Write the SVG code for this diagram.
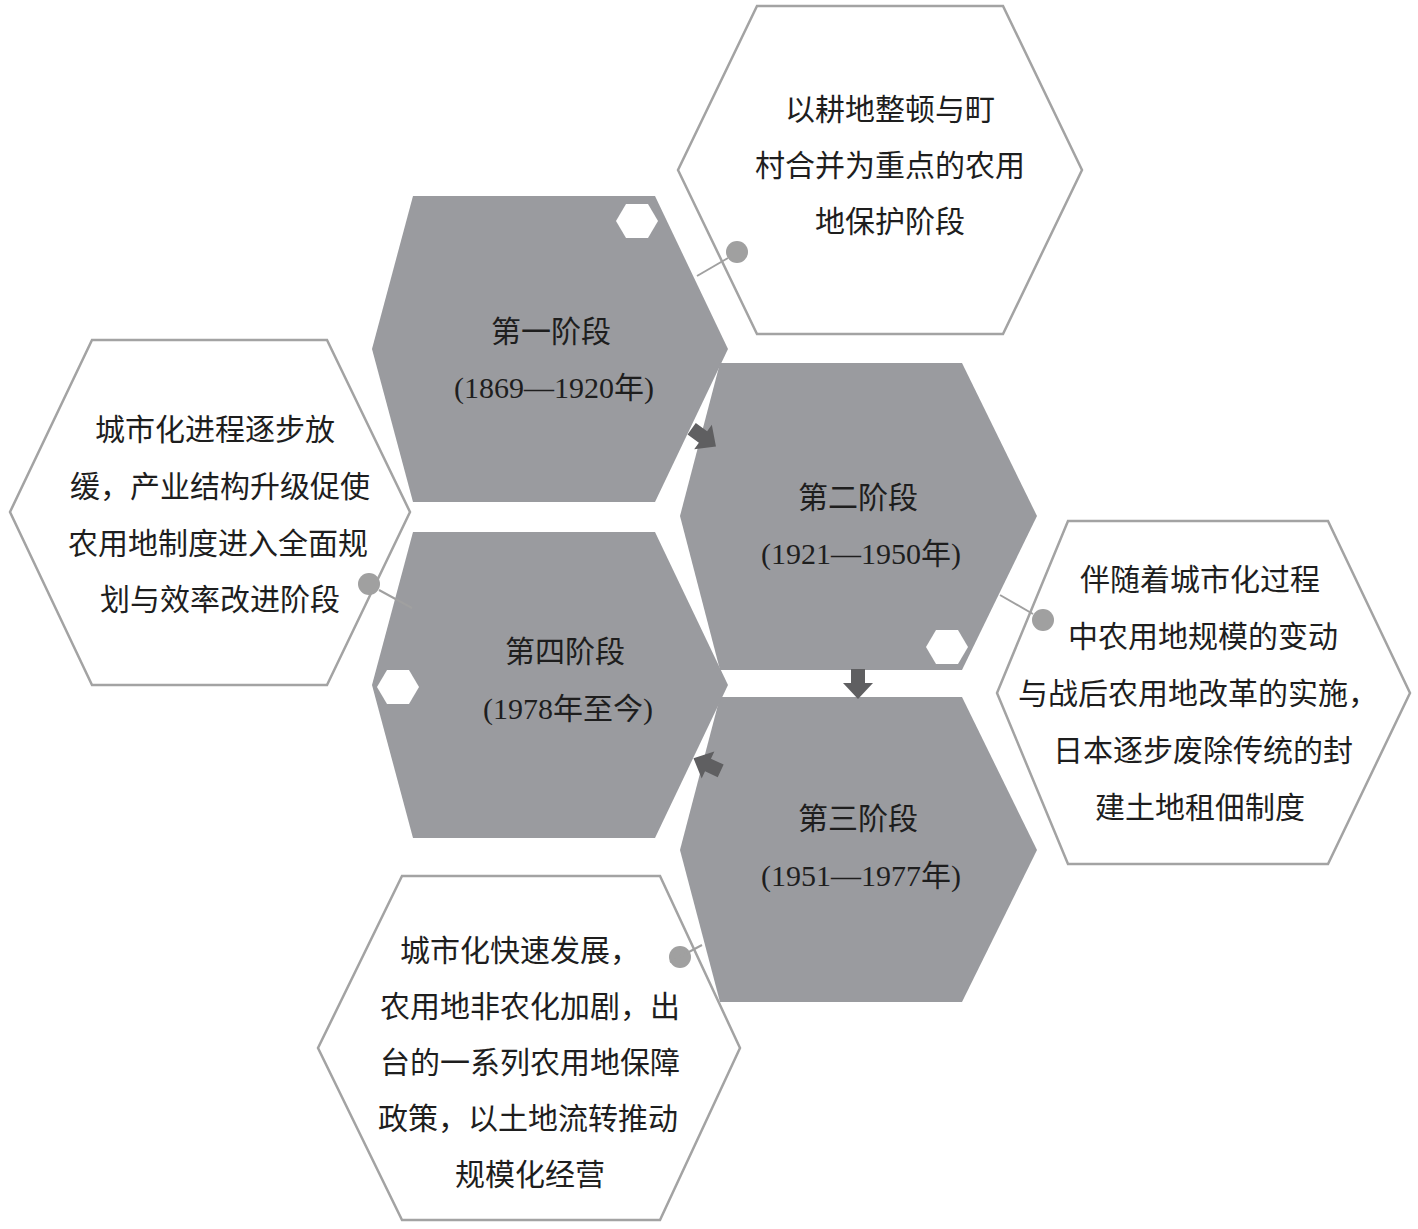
<svg xmlns="http://www.w3.org/2000/svg" width="1418" height="1229" viewBox="0 0 1418 1229">
<style>
.g{fill:#9a9b9f}
.w{fill:#fff;stroke:#a3a3a3;stroke-width:2.5}
.s{fill:#fff}
.t{font-family:"Liberation Serif","Noto Sans CJK SC",serif;font-size:30px;fill:#1e1e1e;text-anchor:middle}
.d{fill:#a0a0a0}
.l{stroke:#a0a0a0;stroke-width:2}
.a{fill:#5f5f61}
</style>
<defs><polygon id="arr" points="-14,-7 0,-7 0,-15 16,0 0,15 0,7 -14,7"/></defs>
<rect width="1418" height="1229" fill="#fff"/>
<g id="n1"><polygon class="g" points="413,196 655,196 728,349 655,502 413,502 372,349"/>
<polygon class="s" points="626,204 648,204 658,221 648,238 626,238 616,221"/>
<text class="t" x="551" y="342">第一阶段</text><text class="t" x="554" y="398">(1869—1920年)</text></g>
<g id="n2"><polygon class="g" points="720,363 962,363 1037,516 962,670 720,670 680,516"/>
<polygon class="s" points="936,630 958,630 968,647 958,664 936,664 926,647"/>
<text class="t" x="858" y="508">第二阶段</text><text class="t" x="861" y="564">(1921—1950年)</text></g>
<g id="n3"><polygon class="g" points="720,697 962,697 1037,850 962,1002 720,1002 680,850"/>
<text class="t" x="858" y="829">第三阶段</text><text class="t" x="861" y="886">(1951—1977年)</text></g>
<g id="n4"><polygon class="g" points="413,532 655,532 728,685 655,838 413,838 372,685"/>
<polygon class="s" points="387,670 409,670 419,687 409,704 387,704 377,687"/>
<text class="t" x="565" y="662">第四阶段</text><text class="t" x="568" y="719">(1978年至今)</text></g>
<g id="nA"><polygon class="w" points="757,6 1003,6 1082,170 1003,334 757,334 678,170"/>
<circle class="d" cx="737" cy="252" r="11"/>
<text class="t" x="890" y="120">以耕地整顿与町</text><text class="t" x="890" y="176">村合并为重点的农用</text><text class="t" x="890" y="232">地保护阶段</text></g>
<g id="nB"><polygon class="w" points="92,340 327,340 410,512 327,685 92,685 10,512"/>
<circle class="d" cx="369" cy="584" r="11"/>
<text class="t" x="215" y="440">城市化进程逐步放</text><text class="t" x="220" y="497">缓，产业结构升级促使</text><text class="t" x="218" y="554">农用地制度进入全面规</text><text class="t" x="220" y="610">划与效率改进阶段</text></g>
<g id="nC"><polygon class="w" points="1068,521 1328,521 1410,693 1328,864 1068,864 997,693"/>
<circle class="d" cx="1043" cy="620" r="11"/>
<text class="t" x="1200" y="590">伴随着城市化过程</text><text class="t" x="1203" y="647">中农用地规模的变动</text><text class="t" x="1198" y="704">与战后农用地改革的实施，</text><text class="t" x="1203" y="761">日本逐步废除传统的封</text><text class="t" x="1200" y="818">建土地租佃制度</text></g>
<g id="nD"><polygon class="w" points="402,876 660,876 740,1048 660,1220 402,1220 318,1048"/>
<circle class="d" cx="680" cy="957" r="11"/>
<text class="t" x="520" y="961">城市化快速发展，</text><text class="t" x="530" y="1017">农用地非农化加剧，出</text><text class="t" x="530" y="1073">台的一系列农用地保障</text><text class="t" x="528" y="1129">政策，以土地流转推动</text><text class="t" x="530" y="1185">规模化经营</text></g>
<g id="connectors">
<line class="l" x1="728" y1="258" x2="697" y2="276"/>
<line class="l" x1="379" y1="590" x2="412" y2="608"/>
<line class="l" x1="1033" y1="614" x2="1000" y2="595"/>
<line class="l" x1="670" y1="962" x2="702" y2="945"/>
<use href="#arr" class="a" transform="translate(703,437) rotate(36)"/>
<use href="#arr" class="a" transform="translate(858,683) rotate(90)"/>
<use href="#arr" class="a" transform="translate(708,765) rotate(205)"/>
</g>
</svg>
